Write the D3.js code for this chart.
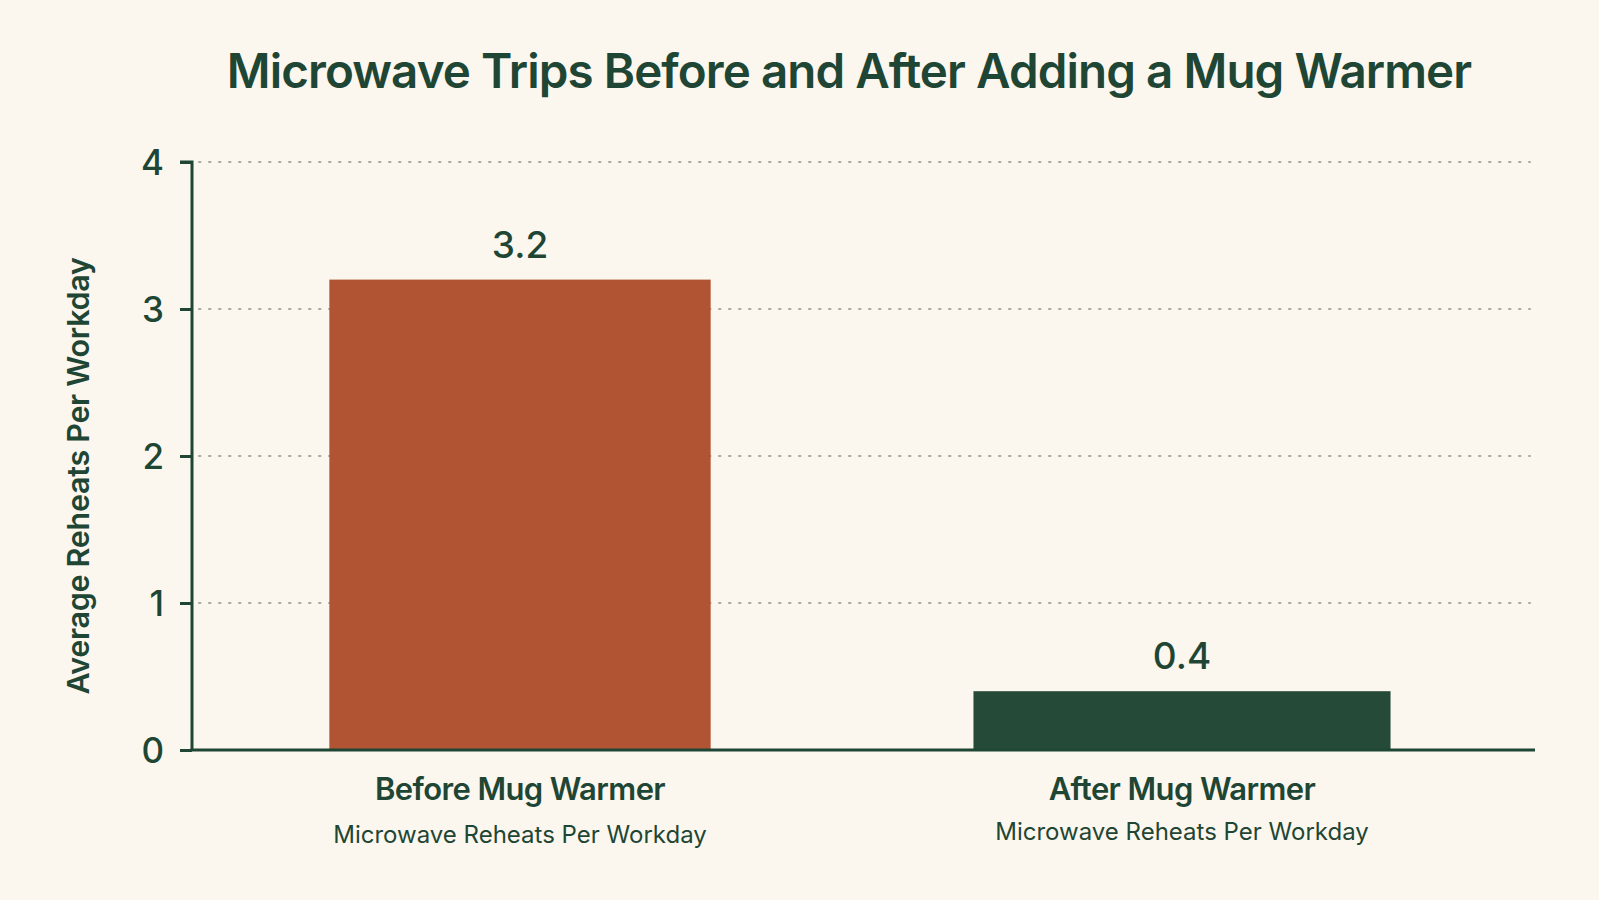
<!DOCTYPE html>
<html>
<head>
<meta charset="utf-8">
<script src="https://cdn.jsdelivr.net/npm/d3@7"></script>
<style>
  html, body { margin: 0; padding: 0; background: #FBF7EF; }
  svg { display: block; }
  text { font-family: Inter, "Open Sans", sans-serif; fill: #1F4634; }
</style>
</head>
<body>
<svg id="chart" width="1599" height="900"></svg>
<script>
// ---- data ----
const categories = ["Before Mug Warmer", "After Mug Warmer"];
const subLabels = ["Microwave Reheats Per Workday", "Microwave Reheats Per Workday"];
const values = [3.2, 0.4];
const valueLabels = ["3.2", "0.4"];
const yTicks = [0, 1, 2, 3, 4];
const titleText = "Microwave Trips Before and After Adding a Mug Warmer";
const yAxisTitle = "Average Reheats Per Workday";

// ---- style ----
const barColors = ["#B05434", "#264A38"];
const barWidthFactor = [0.576, 0.63];
const ink = "#1F4634";

const svg = d3.select("#chart");
const W = 1599, H = 900;
const m = { left: 192, right: 1535, top: 162, bottom: 750 };

svg.append("rect").attr("width", W).attr("height", H).attr("fill", "#FBF7EF");

const x = d3.scaleBand().domain(categories).range([m.left - 3, 1513]).paddingInner(0).paddingOuter(0);
const y = d3.scaleLinear().domain([0, 4]).range([m.bottom, m.top]);

// grid
svg.append("g").selectAll("line").data(yTicks.filter(d => d > 0)).join("line")
  .attr("x1", m.left + 7).attr("x2", 1530)
  .attr("y1", d => y(d)).attr("y2", d => y(d))
  .attr("stroke", "#A9ABA0").attr("stroke-width", 2)
  .attr("stroke-dasharray", "1.5,8.5").attr("stroke-linecap", "round");

// bars
svg.append("g").selectAll("rect").data(values).join("rect")
  .attr("x", (d, i) => x(categories[i]) + x.bandwidth() / 2 - x.bandwidth() * barWidthFactor[i] / 2)
  .attr("width", (d, i) => x.bandwidth() * barWidthFactor[i])
  .attr("y", d => y(d))
  .attr("height", d => y(0) - y(d))
  .attr("fill", (d, i) => barColors[i]);

// value labels
svg.append("g").selectAll("text").data(values).join("text")
  .attr("x", (d, i) => x(categories[i]) + x.bandwidth() / 2)
  .attr("y", d => y(d) - 22)
  .attr("text-anchor", "middle")
  .attr("font-size", 37).attr("font-weight", 500)
  .text((d, i) => valueLabels[i]);

// y axis
const yAxis = d3.axisLeft(y).tickValues(yTicks).tickSize(12).tickPadding(16).tickFormat(d3.format("d"));
const gy = svg.append("g").attr("transform", `translate(${m.left},0)`).call(yAxis);
gy.select(".domain").attr("stroke", ink).attr("stroke-width", 3).attr("d", `M-12,${m.top}H0V${m.bottom}`);
gy.selectAll(".tick line").attr("stroke", ink).attr("stroke-width", 3);
gy.selectAll(".tick text").attr("font-size", 35).attr("font-family", "Inter, sans-serif").attr("fill", ink).attr("font-weight", 500).attr("dy", "0.36em");

// x axis baseline
svg.append("line").attr("x1", m.left - 1.5).attr("x2", m.right)
  .attr("y1", m.bottom).attr("y2", m.bottom)
  .attr("stroke", ink).attr("stroke-width", 3);

// category labels
svg.append("g").selectAll("text").data(categories).join("text")
  .attr("x", d => x(d) + x.bandwidth() / 2)
  .attr("y", 800)
  .attr("text-anchor", "middle")
  .attr("font-size", 31).attr("font-weight", 600)
  .attr("letter-spacing", -0.6)
  .text(d => d);

svg.append("g").selectAll("text").data(subLabels).join("text")
  .attr("x", (d, i) => x(categories[i]) + x.bandwidth() / 2)
  .attr("y", (d, i) => i === 0 ? 843 : 840)
  .attr("text-anchor", "middle")
  .attr("font-size", 24).attr("font-weight", 400)
  .text(d => d);

// y axis title
svg.append("text")
  .attr("transform", `translate(89,476) rotate(-90)`)
  .attr("text-anchor", "middle")
  .attr("font-size", 30.5).attr("font-weight", 600)
  .attr("letter-spacing", -0.3)
  .text(yAxisTitle);

// title
svg.append("text")
  .attr("x", 849).attr("y", 88)
  .attr("text-anchor", "middle")
  .attr("font-size", 47.5).attr("font-weight", 600)
  .attr("letter-spacing", -0.9)
  .text(titleText);
</script>
</body>
</html>
